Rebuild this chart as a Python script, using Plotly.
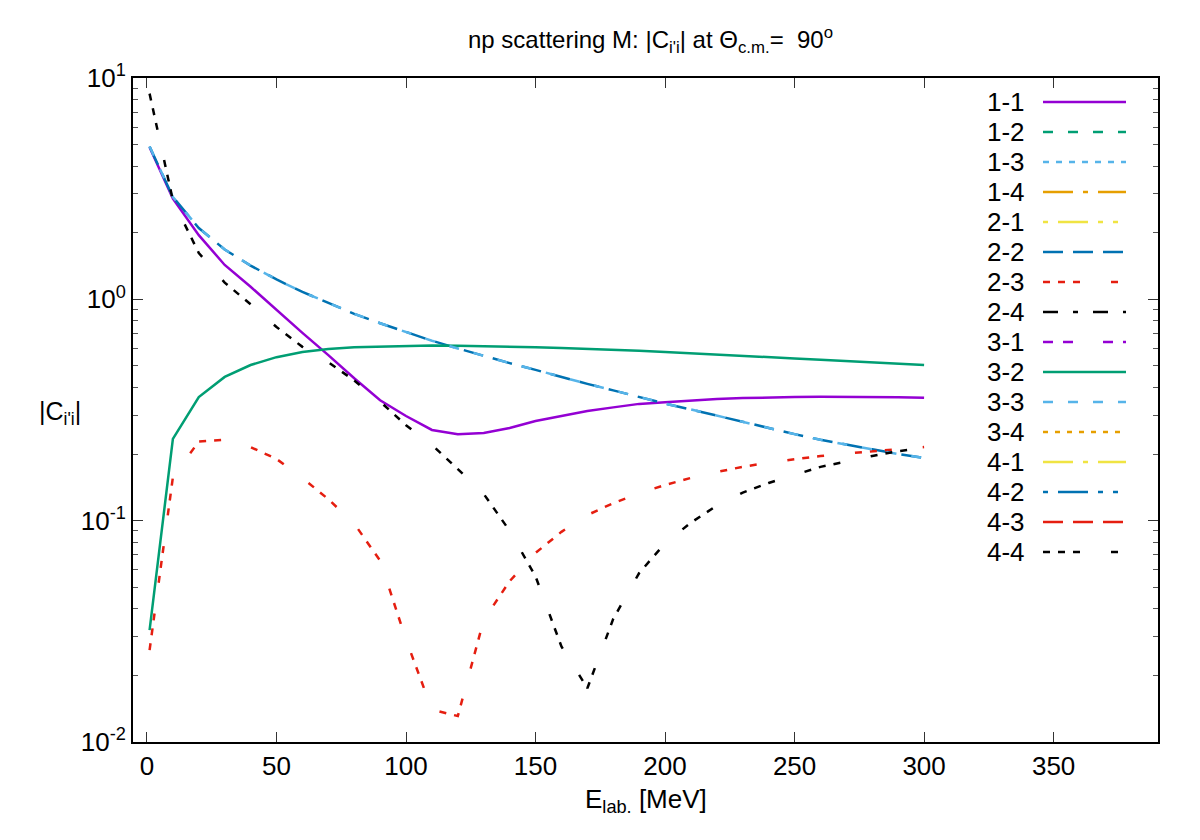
import plotly.graph_objects as go

# ---------------- data ----------------
energy = [1, 10, 20, 30, 40, 50, 60, 70, 80, 90, 100, 110, 120, 130, 140, 150,
          160, 170, 180, 190, 200, 210, 220, 230, 240, 250, 260, 270, 280, 290, 300]

c11 = [4.87, 2.85, 1.95, 1.43, 1.14, 0.895, 0.705, 0.56, 0.44, 0.35, 0.297, 0.257,
       0.246, 0.249, 0.262, 0.282, 0.297, 0.313, 0.325, 0.337, 0.343, 0.35, 0.355,
       0.358, 0.361, 0.362, 0.363, 0.363, 0.362, 0.361, 0.359]

c22 = [4.9, 2.9, 2.1, 1.68, 1.42, 1.23, 1.08, 0.96, 0.86, 0.78, 0.71, 0.65, 0.60,
       0.555, 0.515, 0.48, 0.445, 0.415, 0.388, 0.362, 0.338, 0.318, 0.298, 0.278,
       0.262, 0.246, 0.232, 0.22, 0.21, 0.2, 0.192]

c23 = [0.026, 0.157, 0.228, 0.232, 0.215, 0.19, 0.156, 0.125, 0.097, 0.066, 0.029,
       0.014, 0.0131, 0.0356, 0.0533, 0.0715, 0.089, 0.106, 0.12, 0.133, 0.145,
       0.156, 0.166, 0.175, 0.183, 0.19, 0.196, 0.201, 0.206, 0.211, 0.215]

c32 = [0.032, 0.234, 0.362, 0.446, 0.505, 0.548, 0.578, 0.597, 0.607, 0.612, 0.617,
       0.618, 0.617, 0.615, 0.612, 0.608, 0.603, 0.598, 0.592, 0.585, 0.578, 0.571,
       0.564, 0.556, 0.548, 0.541, 0.533, 0.526, 0.519, 0.512, 0.505]

c33 = [4.9, 2.9, 2.1, 1.68, 1.42, 1.23, 1.08, 0.96, 0.86, 0.78, 0.71, 0.65, 0.60,
       0.555, 0.515, 0.48, 0.445, 0.415, 0.388, 0.362, 0.338, 0.318, 0.298, 0.278,
       0.262, 0.246, 0.232, 0.22, 0.21, 0.2, 0.192]

c44 = [8.5, 2.8, 1.62, 1.19, 0.95, 0.75, 0.61, 0.52, 0.43, 0.345, 0.27, 0.22, 0.171,
       0.132, 0.09, 0.056, 0.027, 0.0175, 0.036, 0.058, 0.079, 0.098, 0.117, 0.134,
       0.148, 0.161, 0.175, 0.185, 0.196, 0.206, 0.213]

series_names = ["1-1", "1-2", "1-3", "1-4", "2-1", "2-2", "2-3", "2-4",
                "3-1", "3-2", "3-3", "3-4", "4-1", "4-2", "4-3", "4-4"]

series_values = {"1-1": c11, "2-2": c22, "2-3": c23, "3-2": c32, "3-3": c33, "4-4": c44}

y_tickvals = [0.01, 0.1, 1, 10]
y_ticktext = ["10<sup>-2</sup>", "10<sup>-1</sup>", "10<sup>0</sup>", "10<sup>1</sup>"]
x_tickvals = [0, 50, 100, 150, 200, 250, 300, 350]

# ---------------- styles ----------------
PURPLE, GREEN, LBLUE, ORANGE = "#9400D3", "#009E73", "#56B4E9", "#E69F00"
YELLOW, BLUE, RED, BLACK = "#F0E442", "#0072B2", "#E51E10", "#000000"

style = {
    "1-1": (PURPLE, "solid"),
    "1-2": (GREEN, "10px,15px"),
    "1-3": (LBLUE, "6px,7px"),
    "1-4": (ORANGE, "30px,10px,5px,10px"),
    "2-1": (YELLOW, "5px,10px,30px,10px,5px,10px"),
    "2-2": (BLUE, "20px,10px"),
    "2-3": (RED, "7px,8px,7px,8px,7px,31px"),
    "2-4": (BLACK, "15px,15px,5px,15px"),
    "3-1": (PURPLE, "10px,10px,10px,30px"),
    "3-2": (GREEN, "solid"),
    "3-3": (LBLUE, "10px,15px"),
    "3-4": (ORANGE, "5px,7px"),
    "4-1": (YELLOW, "30px,10px,5px,10px"),
    "4-2": (BLUE, "5px,10px,30px,10px,5px,10px"),
    "4-3": (RED, "20px,10px"),
    "4-4": (BLACK, "7px,8px,7px,8px,7px,31px"),
}

FONT = "Liberation Sans, Arial, Helvetica, sans-serif"
LW = 2.5

fig = go.Figure()
for name in series_names:
    if name in series_values:
        col, dash = style[name]
        fig.add_trace(go.Scatter(x=energy, y=series_values[name], mode="lines",
                                 name=name, line=dict(color=col, dash=dash, width=LW),
                                 showlegend=False))

# page offset (browser body margin)
OFF = 8
FW, FH = 1200, 840
# plot area in page pixels
L, R, T, B = 133, 1158, 78, 742
W, H = R - L, B - T


def px_x(p):
    return (p - L) / W


def px_y(p):
    return (B - p) / H


# gnuplot-style legend (text left, sample right)
shapes = []
annotations = []
for i, name in enumerate(series_names):
    yy = px_y(102 + 30 * i)
    col, dash = style[name]
    annotations.append(dict(x=px_x(1027), y=yy, xref="paper", yref="paper",
                            text=name, showarrow=False, xanchor="right",
                            yanchor="middle", font=dict(size=26, color="black", family=FONT)))
    shapes.append(dict(type="line", xref="paper", yref="paper",
                       x0=px_x(1043), x1=px_x(1126), y0=yy, y1=yy,
                       line=dict(color=col, dash=dash, width=LW)))

# axis titles
annotations.append(dict(x=px_x(646), y=px_y(800), xref="paper", yref="paper",
                        text="E<sub>lab.</sub> [MeV]", showarrow=False,
                        xanchor="center", yanchor="middle",
                        font=dict(size=26, color="black", family=FONT)))
annotations.append(dict(x=px_x(60), y=px_y(413), xref="paper", yref="paper",
                        text="|C<sub>i'i</sub>|", showarrow=False,
                        xanchor="center", yanchor="middle",
                        font=dict(size=25, color="black", family=FONT)))

# title
annotations.append(dict(x=px_x(650), y=px_y(40), xref="paper", yref="paper",
                        text="np scattering M: |C<sub>i'i</sub>| at Θ<sub>c.m.</sub>=&nbsp; 90<sup>o</sup>",
                        showarrow=False, xanchor="center", yanchor="middle",
                        font=dict(size=24, color="black", family=FONT)))

minor_vals = []
for dec in [0.01, 0.1, 1]:
    for k in range(2, 10):
        minor_vals.append(round(k * dec, 6))

fig.update_layout(
    width=FW, height=FH,
    margin=dict(l=L - OFF, r=FW - (R - OFF), t=T - OFF, b=FH - (B - OFF)),
    paper_bgcolor="white", plot_bgcolor="white",
    font=dict(family=FONT, color="black"),
    shapes=shapes,
    annotations=annotations,
    showlegend=False,
    xaxis=dict(range=[-5.4, 390.3], tickmode="array", tickvals=x_tickvals,
               ticks="inside", ticklen=10, tickwidth=1, tickcolor="#333",
               showline=True, linewidth=2, linecolor="black", mirror="ticks",
               showgrid=False, zeroline=False,
               tickfont=dict(size=26, color="black", family=FONT)),
    yaxis=dict(type="log", range=[-2, 1], tickmode="array",
               tickvals=y_tickvals, ticktext=y_ticktext,
               ticks="inside", ticklen=10, tickwidth=1, tickcolor="#333",
               showline=True, linewidth=2, linecolor="black", mirror="ticks",
               showgrid=False, zeroline=False,
               minor=dict(tickmode="array", tickvals=minor_vals, ticks="inside",
                          ticklen=5, tickwidth=1, tickcolor="#555", showgrid=False),
               tickfont=dict(size=26, color="black", family=FONT)),
)

fig.write_html("out.html")
